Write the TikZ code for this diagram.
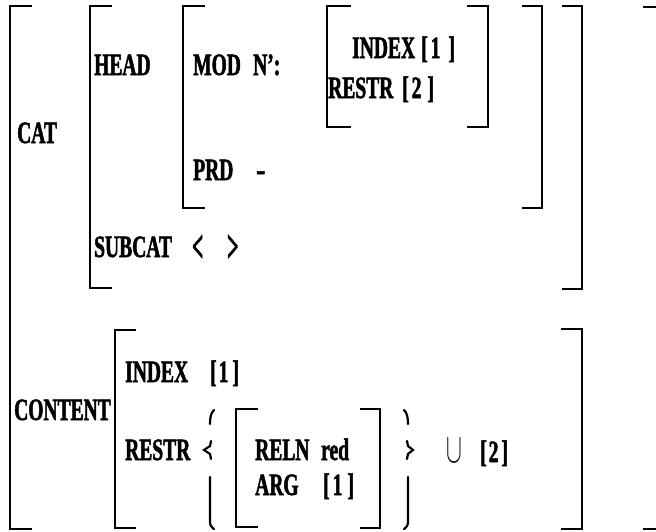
\documentclass[tikz,border=0pt]{standalone}
\usepackage{fontspec}
\newfontfamily\dfont{Liberation Serif}[FakeStretch=0.63, BoldFeatures={FakeBold=1.6}]
\tikzset{
  txt/.style={anchor=base west, inner sep=0pt, font=\dfont\bfseries\fontsize{31}{31}\selectfont},
  brk/.style={line width=2.4pt, line cap=butt, line join=miter},
  brc/.style={line width=2.2pt, line cap=round},
}
\begin{document}
\begin{tikzpicture}[x=1pt, y=-1pt]
\useasboundingbox (0,0) rectangle (656,531);
% outer bracket
\draw[brk] (32,6) -- (10,6) -- (10,529) -- (32,529);
\draw[brk] (643,7) -- (668,7) -- (668,529) -- (643,529);
% CAT bracket
\draw[brk] (112,6) -- (90,6) -- (90,288) -- (112,288);
\draw[brk] (562,6) -- (582,6) -- (582,289) -- (562,289);
% HEAD bracket
\draw[brk] (205,6) -- (183,6) -- (183,208) -- (205,208);
\draw[brk] (522,6) -- (542,6) -- (542,208) -- (522,208);
% MOD bracket
\draw[brk] (351,6) -- (327,6) -- (327,127) -- (351,127);
\draw[brk] (467,6) -- (488,6) -- (488,127) -- (467,127);
% CONTENT bracket
\draw[brk] (136,330) -- (115,330) -- (115,528) -- (136,528);
\draw[brk] (561,329) -- (582,329) -- (582,529) -- (561,529);
% RELN bracket
\draw[brk] (258,409) -- (236,409) -- (236,527) -- (258,527);
\draw[brk] (360,409) -- (380,409) -- (380,528) -- (360,528);
% left brace
\draw[brc] (214,410) .. controls (211,413) and (210,417) .. (210,424);
\draw[brc] (211,441) -- (210,446) -- (204,450) -- (210,454) -- (211,459);
\draw[brc] (210,477) -- (210,521) .. controls (210,525) and (211,527) .. (214,529);
% right brace
\draw[brc] (404,410) .. controls (407,413) and (408,417) .. (408,424);
\draw[brc] (407,441) -- (408,446) -- (413,450) -- (408,454) -- (407,459);
\draw[brc] (408,477) -- (408,521) .. controls (408,525) and (407,527) .. (404,529);
% texts
\node[txt] (cat) at (17,143) {CAT};
\node[txt] (head) at (94,75) {HEAD};
\node[txt] (mod) at (193,75) {MOD};
\node[txt] (np) at (253,75) {N’:};
\node[txt] (idx1) at (352,58) {INDEX};
\node[txt] (one1) at (421,58) {[\kern3pt1\kern8pt]};
\node[txt] (res1) at (328,98) {RESTR};
\node[txt] (two1) at (402,98) {[\kern3pt2\kern6pt]};
\node[txt] (prd) at (193,180) {PRD};
\node[txt] (minus) at (256,180) {\scalebox{1.4}[1]{-}};
\node[txt] (subcat) at (94,257) {SUBCAT};
\node[txt] (lt) at (192,262) {\scalebox{1}[1.5]{<}};
\node[txt] (gt) at (227,262) {\scalebox{1}[1.5]{>}};
\node[txt] (content) at (14,420) {CONTENT};
\node[txt] (idx2) at (125,382) {INDEX};
\node[txt] (one2) at (210,382) {[\kern2pt1\kern4pt]};
\node[txt] (res2) at (125,460) {RESTR};
\node[txt] (reln) at (255,460) {RELN};
\node[txt] (red) at (321,460) {red};
\node[txt] (arg) at (255,495) {ARG};
\node[txt] (one3) at (323,495) {[\kern3pt1\kern5pt]};
\node[txt, font=\fontsize{24}{24}\selectfont] (un) at (446,462) {\scalebox{0.95}[1.7]{$\cup$}};
\node[txt] (two2) at (480,462) {[\kern2pt2\kern3pt]};
\end{tikzpicture}
\end{document}
